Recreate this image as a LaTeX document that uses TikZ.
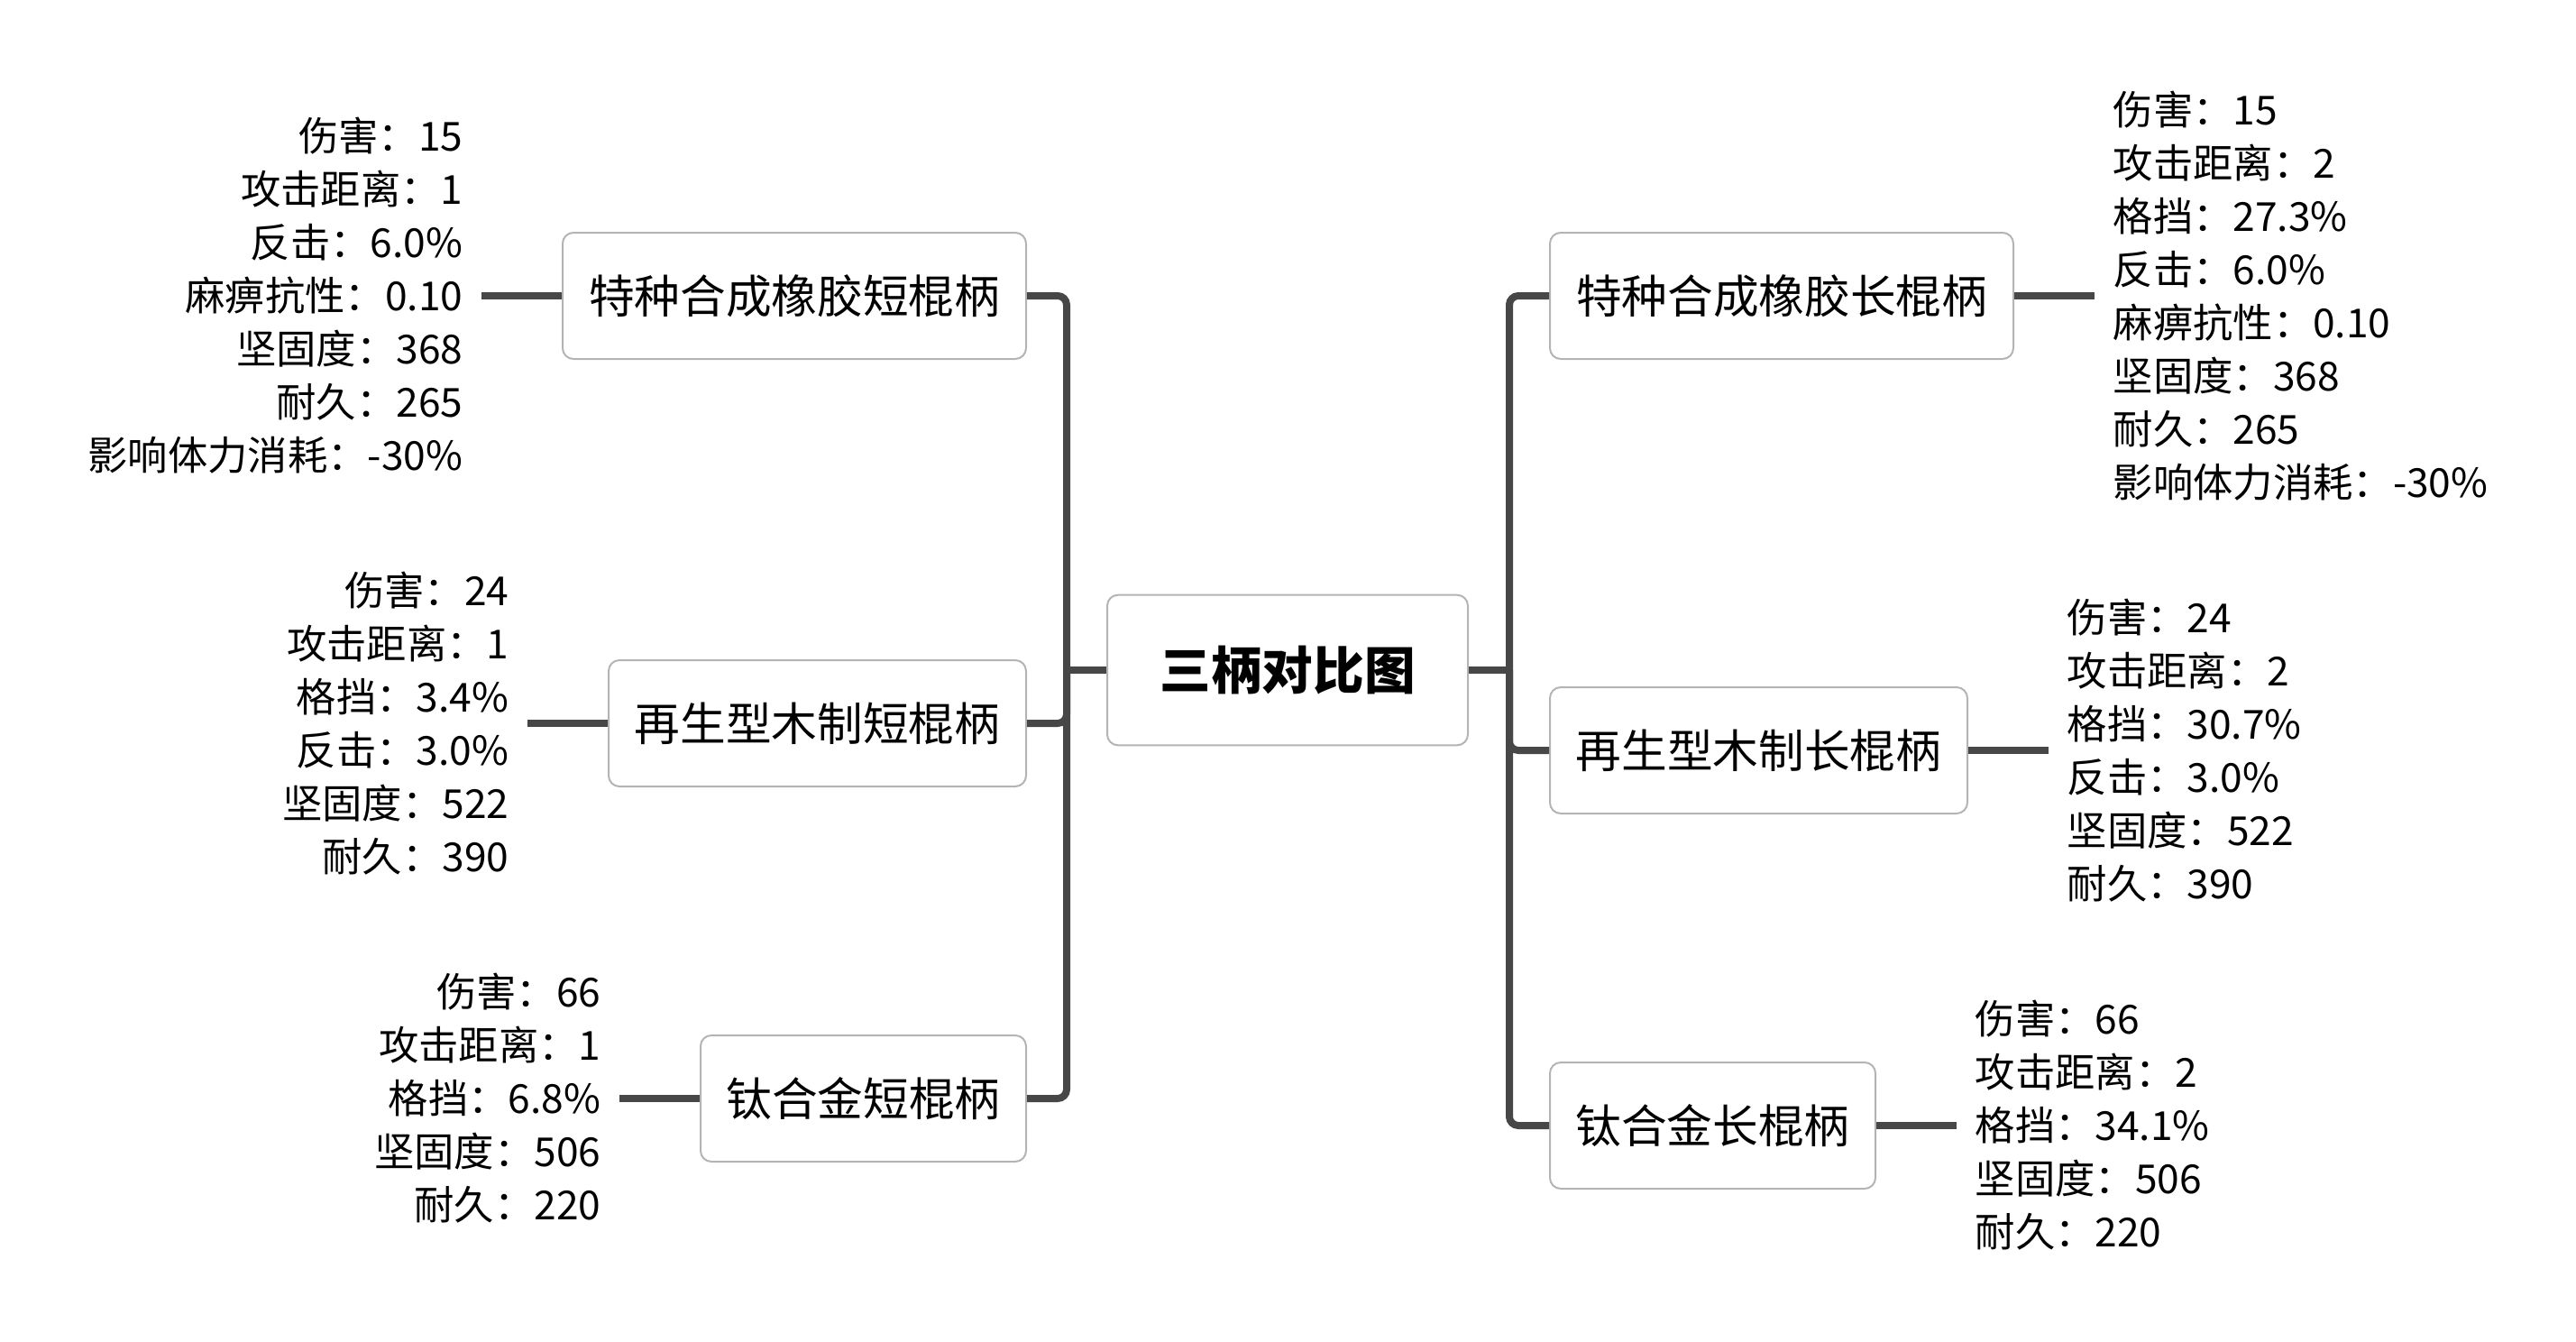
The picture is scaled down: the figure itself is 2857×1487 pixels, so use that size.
\documentclass[tikz,border=0pt]{standalone}
\usepackage{fontspec}
\setmainfont{Noto Sans CJK SC}
\usetikzlibrary{positioning}
\definecolor{boxgray}{HTML}{B4B4B4}
\definecolor{linkgray}{HTML}{474747}
\begin{document}
\begin{tikzpicture}[
x=0.3pt, y=-0.3pt,
node distance=26.7pt,
box/.style={draw=boxgray, line width=0.6pt, rectangle, rounded corners=3.6pt, fill=white, minimum height=42pt, inner xsep=0pt, font=\fontsize{15.2pt}{18pt}\selectfont},
root/.style={box, minimum width=120pt, minimum height=50pt, font=\fontsize{17pt}{20pt}\selectfont\bfseries},
info/.style={inner xsep=6pt, inner ysep=0pt, font=\fontsize{13.3pt}{17.7pt}\selectfont},
link/.style={draw=linkgray, line width=2.4pt, rounded corners=3pt}
]
\useasboundingbox (0,0) rectangle (2857,1487);

\node[root] (root) at (1428,743) {三柄对比图};

\node[box, minimum width=154.2pt, anchor=east] (ls1) at (1139,328) {特种合成橡胶短棍柄};
\node[box, minimum width=138.9pt, anchor=east] (ls2) at (1139,802) {再生型木制短棍柄};
\node[box, minimum width=108.3pt, anchor=east] (ls3) at (1139,1218) {钛合金短棍柄};
\node[box, minimum width=154.2pt, anchor=west] (rl1) at (1718,328) {特种合成橡胶长棍柄};
\node[box, minimum width=138.9pt, anchor=west] (rl2) at (1718,832) {再生型木制长棍柄};
\node[box, minimum width=108.3pt, anchor=west] (rl3) at (1718,1248) {钛合金长棍柄};

\node[info, align=right, left=of ls1] (ls1info) {伤害：15\\攻击距离：1\\反击：6.0\%\\麻痹抗性：0.10\\坚固度：368\\耐久：265\\影响体力消耗：-30\%};
\node[info, align=right, left=of ls2] (ls2info) {伤害：24\\攻击距离：1\\格挡：3.4\%\\反击：3.0\%\\坚固度：522\\耐久：390};
\node[info, align=right, left=of ls3] (ls3info) {伤害：66\\攻击距离：1\\格挡：6.8\%\\坚固度：506\\耐久：220};
\node[info, align=left, right=of rl1] (rl1info) {伤害：15\\攻击距离：2\\格挡：27.3\%\\反击：6.0\%\\麻痹抗性：0.10\\坚固度：368\\耐久：265\\影响体力消耗：-30\%};
\node[info, align=left, right=of rl2] (rl2info) {伤害：24\\攻击距离：2\\格挡：30.7\%\\反击：3.0\%\\坚固度：522\\耐久：390};
\node[info, align=left, right=of rl3] (rl3info) {伤害：66\\攻击距离：2\\格挡：34.1\%\\坚固度：506\\耐久：220};

\coordinate (ljoin) at (1183,743);
\coordinate (rjoin) at (1674,743);
\draw[link] (root.west) -- (ljoin);
\draw[link] (root.east) -- (rjoin);
\draw[link] (ljoin) |- (ls1.east);
\draw[link] (ljoin) |- (ls2.east);
\draw[link] (ljoin) |- (ls3.east);
\draw[link] (rjoin) |- (rl1.west);
\draw[link] (rjoin) |- (rl2.west);
\draw[link] (rjoin) |- (rl3.west);

\draw[link] (ls1.west) -- (ls1info.east);
\draw[link] (ls2.west) -- (ls2info.east);
\draw[link] (ls3.west) -- (ls3info.east);
\draw[link] (rl1.east) -- (rl1info.west);
\draw[link] (rl2.east) -- (rl2info.west);
\draw[link] (rl3.east) -- (rl3info.west);
\end{tikzpicture}
\end{document}
